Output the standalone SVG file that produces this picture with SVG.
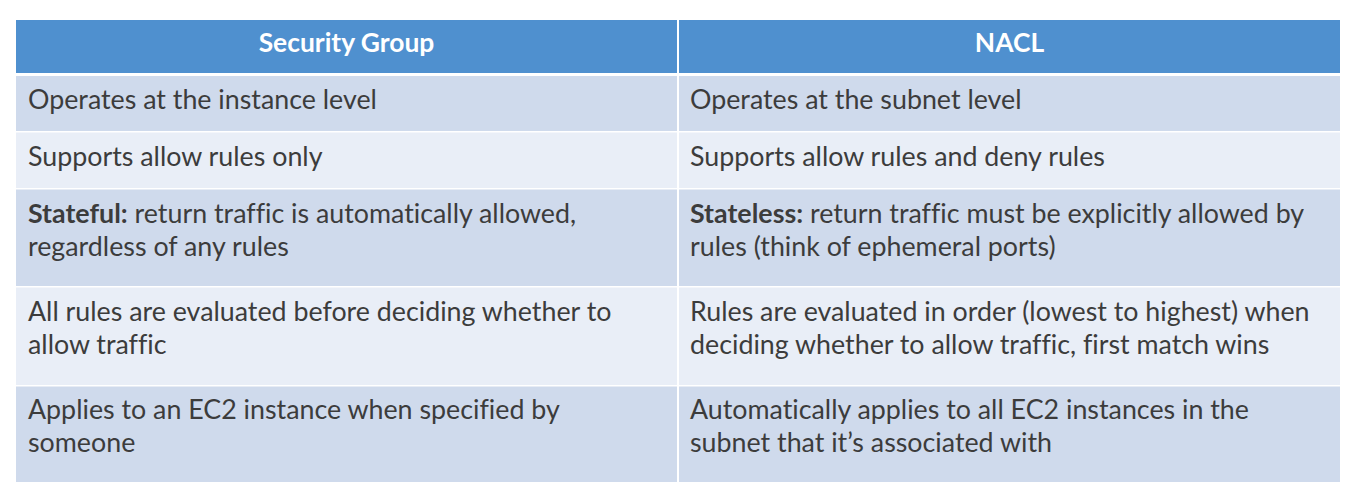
<svg xmlns="http://www.w3.org/2000/svg" width="1350" height="493" viewBox="0 0 1350 493">
<style>
.hd{fill:#4F90CF}
.odd{fill:#CFDAEC}
.even{fill:#E9EEF7}
.ht{font-family:Lato,"Liberation Sans",sans-serif;font-weight:bold;font-size:26.4px;fill:#FFFFFF;text-anchor:middle;font-variant-ligatures:none}
.t{font-family:Lato,"Liberation Sans",sans-serif;font-size:26.8px;fill:#3C3C3C;font-variant-ligatures:none}
.b{font-weight:bold}
</style>
<rect width="1350" height="493" fill="#FFFFFF"/>
<g id="header">
<rect class="hd" x="16" y="20" width="661" height="53"/>
<rect class="hd" x="679" y="20" width="661" height="53"/>
<text class="ht" x="346.5" y="52">Security Group</text>
<text class="ht" x="1009.5" y="52">NACL</text>
</g>
<g id="row1">
<rect class="odd" x="16" y="76" width="661" height="55"/>
<rect class="odd" x="679" y="76" width="661" height="55"/>
<text class="t" x="28" y="109">Operates at the instance level</text>
<text class="t" x="690" y="109">Operates at the subnet level</text>
</g>
<g id="row2">
<rect class="even" x="16" y="132.5" width="661" height="55.5"/>
<rect class="even" x="679" y="132.5" width="661" height="55.5"/>
<text class="t" x="28" y="166">Supports allow rules only</text>
<text class="t" x="690" y="166">Supports allow rules and deny rules</text>
</g>
<g id="row3">
<rect class="odd" x="16" y="189.5" width="661" height="96.5"/>
<rect class="odd" x="679" y="189.5" width="661" height="96.5"/>
<text class="t" x="28" y="223"><tspan class="b">Stateful:</tspan> return traffic is automatically allowed,</text>
<text class="t" x="28" y="255.5">regardless of any rules</text>
<text class="t" x="690" y="223"><tspan class="b">Stateless:</tspan> return traffic must be explicitly allowed by</text>
<text class="t" x="690" y="255.5">rules (think of ephemeral ports)</text>
</g>
<g id="row4">
<rect class="even" x="16" y="287.5" width="661" height="97.5"/>
<rect class="even" x="679" y="287.5" width="661" height="97.5"/>
<text class="t" x="28" y="321">All rules are evaluated before deciding whether to</text>
<text class="t" x="28" y="353.5">allow traffic</text>
<text class="t" x="690" y="321">Rules are evaluated in order (lowest to highest) when</text>
<text class="t" x="690" y="353.5">deciding whether to allow traffic, first match wins</text>
</g>
<g id="row5">
<rect class="odd" x="16" y="386.5" width="661" height="95.5"/>
<rect class="odd" x="679" y="386.5" width="661" height="95.5"/>
<text class="t" x="28" y="418.5">Applies to an EC2 instance when specified by</text>
<text class="t" x="28" y="451.5">someone</text>
<text class="t" x="690" y="418.5">Automatically applies to all EC2 instances in the</text>
<text class="t" x="690" y="451.5">subnet that it’s associated with</text>
</g>
<g id="connectors"></g>
</svg>
